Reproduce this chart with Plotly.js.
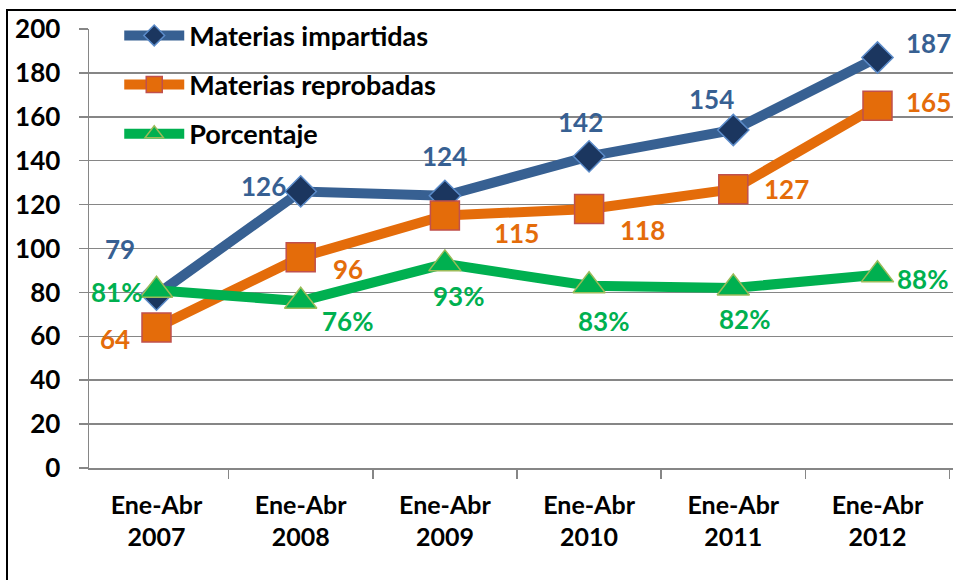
<!DOCTYPE html>
<html>
<head>
<meta charset="utf-8">
<script src="https://cdn.plot.ly/plotly-3.0.1.min.js"></script>
<style>
  html, body { margin: 0; padding: 0; background: #fff; }
  #wrap { position: relative; width: 956px; height: 580px; overflow: hidden; }
  #chart { width: 956px; height: 580px; }
  #frame { position: absolute; left: 6px; top: 9px; width: 960px; height: 600px;
           border-left: 2px solid #000; border-top: 2px solid #000; pointer-events: none; }
</style>
</head>
<body>
<div id="wrap">
  <div id="chart"></div>
  <div id="frame"></div>
</div>
<script>
// ---- data ----
const categories = ["Ene-Abr<br>2007", "Ene-Abr<br>2008", "Ene-Abr<br>2009", "Ene-Abr<br>2010", "Ene-Abr<br>2011", "Ene-Abr<br>2012"];
const seriesNames = ["Materias impartidas", "Materias reprobadas", "Porcentaje"];
const impartidas = [79, 126, 124, 142, 154, 187];
const reprobadas = [64, 96, 115, 118, 127, 165];
const porcentaje = [81, 76, 93, 83, 82, 88];
const yTicks = [0, 20, 40, 60, 80, 100, 120, 140, 160, 180, 200];

// ---- styling ----
const FONT = "Lato, 'Open Sans', sans-serif";
const BLUE = "#376092", NAVY = "#1B365F", LBLUE = "#5B8BC9";
const ORANGE = "#E46C0A", RED = "#C0504D";
const GREEN = "#00B050", LGREEN = "#9BBB59";

// label offsets in pixels [dx, dy] (screen, dy down)
const offBlue = [[-37,-45],[-37,-4],[0,-39],[-9,-33],[-22,-30],[51,-14]];
const offOrange = [[-42,12],[47,13],[72,18],[53,22],[53,1],[51,-3]];
const offGreen = [[-40,3],[47,21],[14,33],[14,36],[11,32],[45,5]];

const traces = [
  { x: categories, y: impartidas, name: seriesNames[0], type: "scatter", mode: "lines+markers",
    legendgroup: "a",
    line: { color: BLUE, width: 10 },
    marker: { symbol: "diamond", size: 24, color: NAVY, line: { color: LBLUE, width: 1.5 } } },
  { x: categories, y: reprobadas, name: seriesNames[1], type: "scatter", mode: "lines+markers",
    legendgroup: "b",
    line: { color: ORANGE, width: 10 },
    marker: { symbol: "square", size: 29, color: ORANGE, line: { color: RED, width: 1.5 } } },
  { x: categories, y: porcentaje, name: seriesNames[2], type: "scatter", mode: "lines+markers",
    legendgroup: "c",
    line: { color: GREEN, width: 10 },
    marker: { symbol: "triangle-up", size: 28, color: GREEN, line: { color: LGREEN, width: 1.5 } } }
];

function labels(vals, offs, color, suffix) {
  return vals.map((v, i) => ({
    x: categories[i], y: v, xref: "x", yref: "y",
    text: v + suffix, showarrow: false,
    xanchor: "center", yanchor: "middle",
    xshift: offs[i][0], yshift: -offs[i][1] + 1,
    font: { family: FONT, size: 26, color: color, weight: "bold" }
  }));
}
const annotations = [].concat(
  labels(impartidas, offBlue, BLUE, ""),
  labels(reprobadas, offOrange, ORANGE, ""),
  labels(porcentaje, offGreen, GREEN, "%")
);

const layout = {
  width: 956, height: 580,
  margin: { l: 89, r: 3, t: 29, b: 112 },
  paper_bgcolor: "#fff", plot_bgcolor: "#fff",
  font: { family: FONT, size: 24, color: "#000", weight: "bold" },
  showlegend: true,
  legend: {
    x: 0.035, y: 1.04, xanchor: "left", yanchor: "top",
    bgcolor: "rgba(0,0,0,0)", borderwidth: 0,
    itemwidth: 60, tracegroupgap: 11,
    font: { family: FONT, size: 27, color: "#000", weight: "bold" }
  },
  xaxis: {
    type: "category", tickson: "boundaries",
    showgrid: false, showline: true, linecolor: "#868686", linewidth: 1.5,
    ticks: "outside", ticklen: 9, tickcolor: "#868686", tickwidth: 1.5,
    ticklabelstandoff: 14,
    tickfont: { family: FONT, size: 25, color: "#000", weight: "bold" },
    fixedrange: true
  },
  yaxis: {
    range: [0, 200], tickvals: yTicks, ticktext: yTicks.map(String),
    showgrid: true, gridcolor: "#868686", gridwidth: 1.5,
    zeroline: true, zerolinecolor: "#868686", zerolinewidth: 1.5,
    showline: true, linecolor: "#868686", linewidth: 1.5,
    ticks: "outside", ticklen: 9, tickcolor: "#868686", tickwidth: 1.5,
    ticklabelstandoff: 13,
    tickfont: { family: FONT, size: 26, color: "#000", weight: "bold" },
    fixedrange: true
  },
  annotations: annotations
};

Plotly.newPlot("chart", traces, layout, { displayModeBar: false, staticPlot: true });
</script>
</body>
</html>
